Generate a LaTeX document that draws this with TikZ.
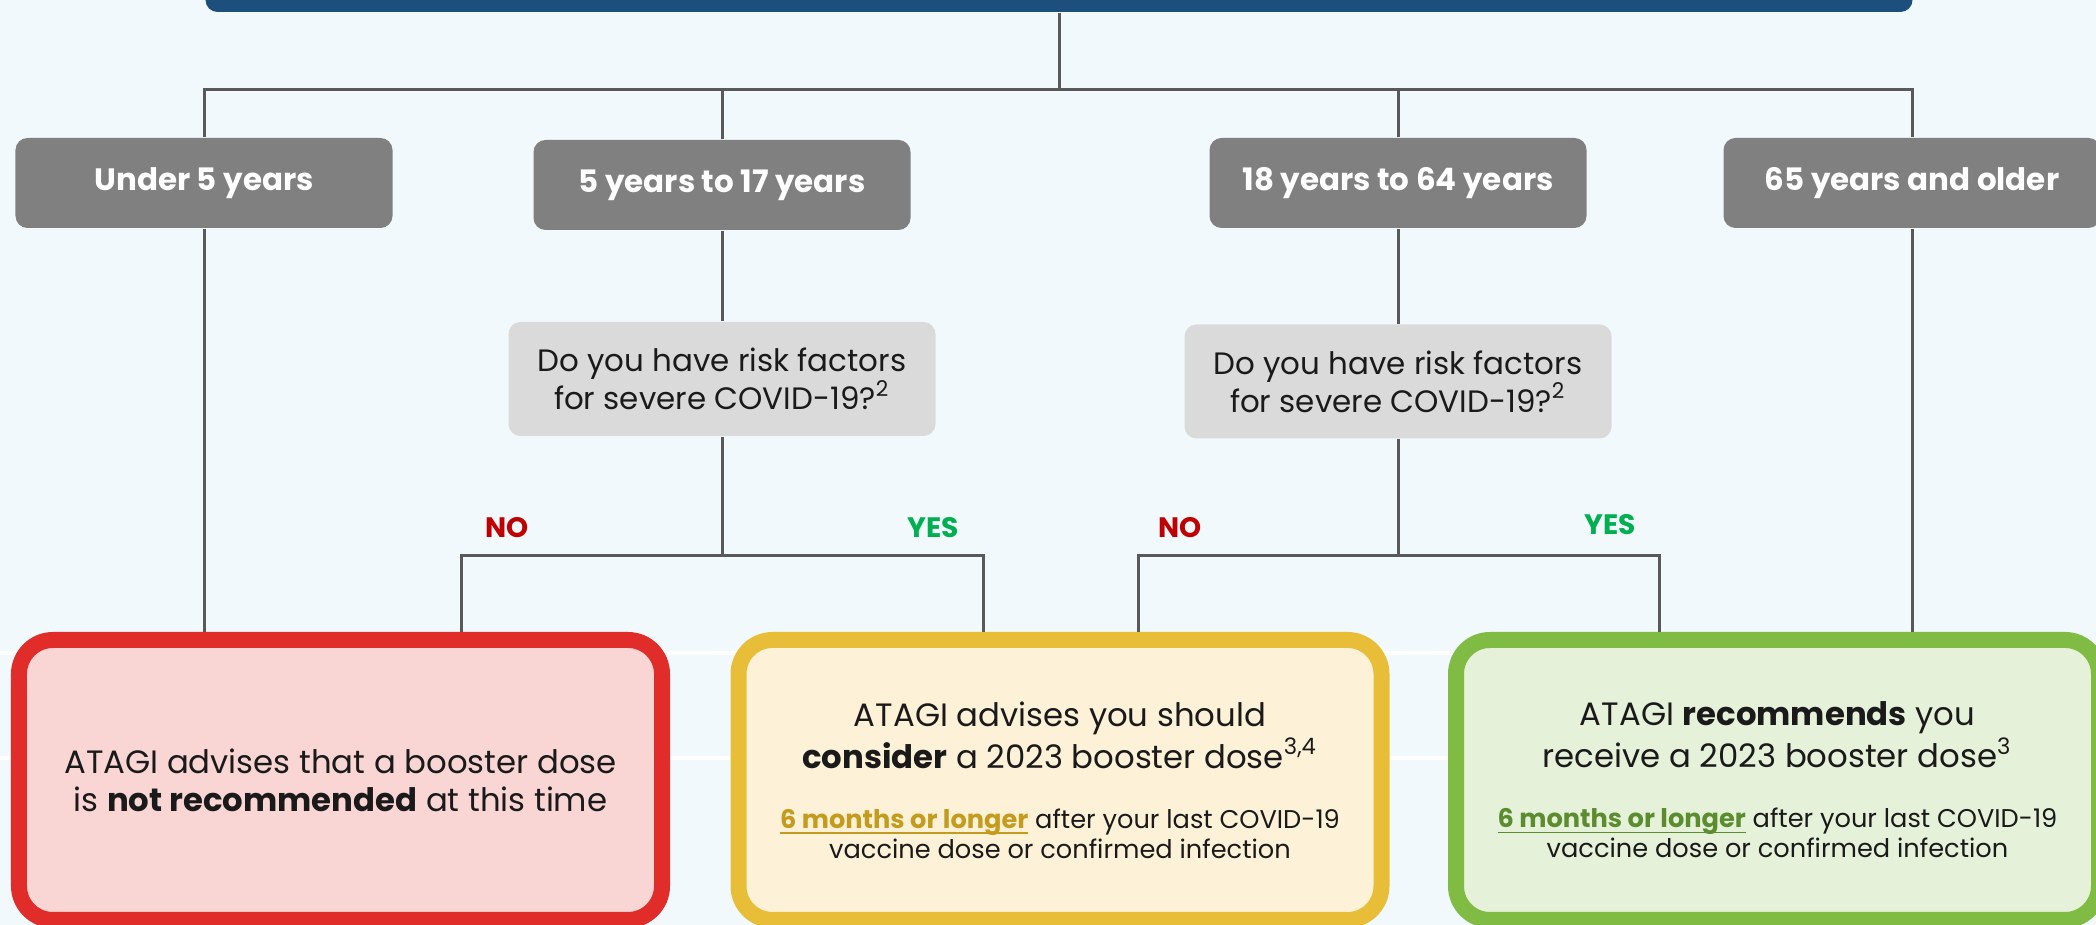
\documentclass[tikz,border=0pt]{standalone}
\usepackage{fontspec}
\setmainfont{Poppins}
\usetikzlibrary{positioning}

\definecolor{bgblue}{HTML}{F1F9FD}
\definecolor{titleblue}{HTML}{1C4F7C}
\definecolor{linegrey}{HTML}{595959}
\definecolor{agegrey}{HTML}{808080}
\definecolor{askgrey}{HTML}{DADADA}
\definecolor{nored}{HTML}{C00000}
\definecolor{yesgreen}{HTML}{00B050}
\definecolor{redline}{HTML}{E02D2A}
\definecolor{redfill}{HTML}{F9D5D4}
\definecolor{amberline}{HTML}{E8BE38}
\definecolor{amberfill}{HTML}{FDF2D8}
\definecolor{ambertext}{HTML}{C49B1D}
\definecolor{greenline}{HTML}{80BB44}
\definecolor{greenfill}{HTML}{E6F1DA}
\definecolor{greentext}{HTML}{5B8C2E}
\definecolor{inkblack}{HTML}{1A1A1A}

\newcommand{\mainsize}{\fontsize{8.8}{10.8}\selectfont}
\newcommand{\advicesize}{\fontsize{9.2}{10.8}\selectfont}
\newcommand{\smallsize}{\fontsize{7.3}{8.5}\selectfont}
\newcommand{\whenline}[1]{\underline{\smash{\textbf{#1}}}}

\tikzset{
  titlebar/.style={fill=titleblue, rounded corners=1.2mm, minimum width=170.7mm, minimum height=5.4mm, inner sep=0pt},
  agebox/.style={fill=agegrey, rounded corners=1.2mm, minimum width=37.7mm, minimum height=9mm, text=white, font=\mainsize\bfseries},
  askbox/.style={fill=askgrey, rounded corners=1.2mm, minimum width=42.7mm, minimum height=11.4mm, align=center, text=inkblack, font=\mainsize},
  outbox/.style={line width=1.6mm, rounded corners=3.4mm, minimum width=64.3mm, minimum height=28mm, align=center, text=inkblack, font=\advicesize},
  link/.style={draw=linegrey, line width=0.3mm},
  nolabel/.style={text=nored, font=\fontsize{8}{9}\selectfont\bfseries},
  yeslabel/.style={text=yesgreen, font=\fontsize{8}{9}\selectfont\bfseries}
}

\begin{document}
\begin{tikzpicture}[x=1mm, y=-1mm]
	\useasboundingbox (0,0) rectangle (209.6,92.5);
	\fill[bgblue] (0,0) rectangle (209.6,92.5);
	\draw[white, line width=0.4mm] (0,65.3) -- (209.6,65.3);
	\draw[white, line width=0.4mm] (0,75.8) -- (209.6,75.8);

	\node[titlebar] (title) at (105.9,-1.5) {};

	% age groups
	\node[agebox] (under5) at (20.4,18.3) {Under 5 years};
	\node[agebox] (teen) at (72.2,18.5) {5 years to 17 years};
	\node[agebox] (adult) at (139.8,18.3) {18 years to 64 years};
	\node[agebox] (over65) at (191.2,18.3) {65 years and older};

	\coordinate (hub) at (105.9,8.95);
	\draw[link] (title.south) -- (hub);
	\draw[link] (under5.north) |- (hub) -| (over65.north);
	\draw[link] (teen.north) -- (teen.north |- hub);
	\draw[link] (adult.north) -- (adult.north |- hub);

	% risk questions
	\node[askbox] (ask1) at (72.2,37.9) {Do you have risk factors\\ for severe COVID-19?\textsuperscript{2}};
	\node[askbox] (ask2) at (139.8,38.15) {Do you have risk factors\\ for severe COVID-19?\textsuperscript{2}};
	\draw[link] (teen.south) -- (ask1.north);
	\draw[link] (adult.south) -- (ask2.north);

	% advice
	\node[outbox, draw=redline, fill=redfill] (notrec) at (34.05,78) {ATAGI advises that a booster dose\\ is \textbf{not recommended} at this time};
	\node[outbox, draw=amberline, fill=amberfill] (consider) at (106,78) {ATAGI advises you should\\ \textbf{consider} a 2023 booster dose\textsuperscript{3,4}\\[2.2mm]
		{\smallsize\textcolor{ambertext}{\whenline{6 months or longer}} after your last COVID-19}\\[-0.8mm]
		{\smallsize vaccine dose or confirmed infection}};
	\node[outbox, draw=greenline, fill=greenfill] (recommend) at (177.75,78) {ATAGI \textbf{recommends} you\\ receive a 2023 booster dose\textsuperscript{3}\\[2.2mm]
		{\smallsize\textcolor{greentext}{\whenline{6 months or longer}} after your last COVID-19}\\[-0.8mm]
		{\smallsize vaccine dose or confirmed infection}};

	\coordinate (fork1l) at (46.1,55.6);
	\coordinate (fork1r) at (98.3,55.6);
	\coordinate (fork2l) at (113.8,55.6);
	\coordinate (fork2r) at (165.9,55.6);
	\draw[link] (ask1.south) -- (ask1.south |- fork1l);
	\draw[link] (fork1l |- notrec.north) -- (fork1l) -- (fork1r) -- (fork1r |- consider.north);
	\draw[link] (ask2.south) -- (ask2.south |- fork2l);
	\draw[link] (fork2l |- consider.north) -- (fork2l) -- (fork2r) -- (fork2r |- recommend.north);
	\draw[link] (under5.south) -- (under5.south |- notrec.north);
	\draw[link] (over65.south) -- (over65.south |- recommend.north);

	\node[nolabel] (no1) at (50.7,52.8) {NO};
	\node[yeslabel] (yes1) at (93.3,52.8) {YES};
	\node[nolabel] (no2) at (118.0,52.8) {NO};
	\node[yeslabel] (yes2) at (161.0,52.5) {YES};
\end{tikzpicture}
\end{document}
